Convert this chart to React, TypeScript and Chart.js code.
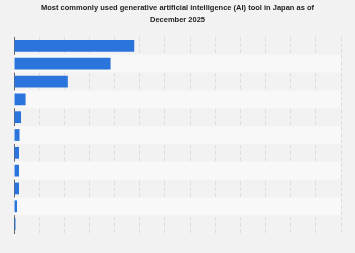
import React, { useEffect, useRef } from "react";
import { Chart, registerables } from "chart.js";

Chart.register(...registerables);

const categories = [
  "ChatGPT",
  "Gemini",
  "Microsoft Copilot",
  "Apple Intelligence",
  "Claude",
  "Perplexity",
  "Grok",
  "Canva AI",
  "Notion AI",
  "DeepSeek",
  "Other",
];
const shares = [23.9, 19.2, 10.7, 2.3, 1.4, 1.1, 1.0, 1.0, 1.0, 0.6, 0.3];
const xTicksMin = 0;
const xTicksMax = 65;
const xTickStep = 5;
const titleLines = [
  "Most commonly used generative artificial intelligence (AI) tool in Japan as of",
  "December 2025",
];

const bandPlugin = {
  id: "bands",
  beforeDatasetsDraw(chart: any) {
    const { ctx, chartArea, scales } = chart;
    const y = scales.y;
    const n = categories.length;
    const step = y.getPixelForValue(1) - y.getPixelForValue(0);
    ctx.save();
    for (let i = 0; i < n; i++) {
      if (i % 2 === 1) {
        const c = y.getPixelForValue(i);
        ctx.fillStyle = "#f8f8f8";
        ctx.fillRect(chartArea.left, c - step / 2, chartArea.right - chartArea.left, step);
      }
    }
    ctx.restore();
  },
};

export default function App() {
  const ref = useRef<HTMLCanvasElement | null>(null);
  useEffect(() => {
    if (!ref.current) return;
    const chart = new Chart(ref.current, {
      type: "bar",
      data: {
        labels: categories,
        datasets: [
          {
            data: shares,
            backgroundColor: "#2b74db",
            barPercentage: 0.66,
            categoryPercentage: 1,
          },
        ],
      },
      options: {
        indexAxis: "y",
        animation: false,
        responsive: false,
        maintainAspectRatio: false,
        layout: { padding: { left: 14, right: 14, top: 0, bottom: 20 } },
        plugins: {
          legend: { display: false },
          tooltip: { enabled: false },
          title: {
            display: true,
            text: titleLines,
            color: "#222222",
            font: { family: "'Liberation Sans', Arial, sans-serif", size: 7.5, weight: "bold", lineHeight: 1.6 },
            padding: { top: 2, bottom: 11 },
          },
        },
        scales: {
          x: {
            min: xTicksMin,
            max: xTicksMax,
            ticks: { display: false, stepSize: xTickStep },
            grid: { color: "#dedede", lineWidth: 1, drawTicks: false },
            border: { display: false, dash: [4, 2] },
          },
          y: {
            ticks: { display: false },
            grid: { display: false, drawTicks: false },
            border: { display: true, color: "#666666", width: 1 },
          },
        },
      },
      plugins: [bandPlugin],
    });
    return () => chart.destroy();
  }, []);
  return (
    <div style={{ position: "fixed", left: 0, top: 0, width: 355, height: 253, background: "#f2f2f2" }}>
      <canvas ref={ref} width={355} height={253} style={{ display: "block" }} />
    </div>
  );
}
